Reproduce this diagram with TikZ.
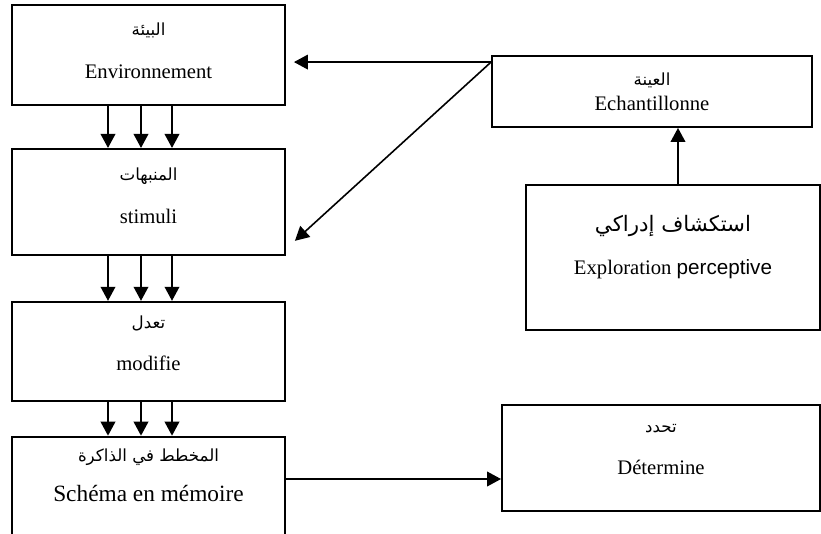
\documentclass[tikz,border=0pt]{standalone}
\usepackage{fontspec}
\setmainfont{Liberation Serif}
\newfontfamily\arabicfont[Script=Arabic]{DejaVu Sans}
\newfontfamily\arialfont{Liberation Sans}
\TeXXeTstate=1
\usetikzlibrary{arrows.meta,positioning}

\newcommand{\artxt}[1]{{\arabicfont\fontsize{12.5}{14}\selectfont\beginR #1\endR}}

\begin{document}
\begin{tikzpicture}[
  >={Triangle[length=10.5pt,width=11pt]},
  % main chain boxes
  box/.style={draw, line width=1.4pt, minimum width=204.75pt,
              align=center, inner sep=0pt,
              font=\fontsize{15.5}{19}\selectfont},
  % boxes on the right
  sidebox/.style={box, minimum width=240pt},
  % arrows
  arr/.style={->, line width=1.2pt},
]
\useasboundingbox (0,0) rectangle (615.75pt,-399.75pt);

%% -- Left column ----------------------------------------------------------
\node[box, minimum height=75pt, text depth=7pt]   (env)    at (111.375pt,-41.25pt)
      {\artxt{البيئة}\\[13pt]Environnement};
\node[box, minimum height=79.5pt, text depth=9pt] (stim)   [below=31.5pt of env]
      {\artxt{المنبهات}\\[13pt]stimuli};
\node[box, minimum height=74.25pt, text depth=12pt](mod)   [below=33.75pt of stim]
      {\artxt{تعدل}\\[12pt]modifie};
\node[box, minimum height=82.5pt, text depth=25pt, font=\fontsize{17.5}{21}\selectfont]
      (schema) [below=25.5pt of mod]
      {\artxt{المخطط في الذاكرة}\\[9pt]Schéma en mémoire};

%% -- Right column ---------------------------------------------------------
\node[sidebox, minimum height=53.25pt] (echant) at (489pt,-68.625pt)
      {\artxt{العينة}\\Echantillonne};
\node[box, minimum width=220.5pt, minimum height=108.75pt, text depth=19pt]
      (explor) [below=42pt of echant, xshift=15.75pt]
      {{\arabicfont\fontsize{16}{19}\selectfont\beginR استكشاف إدراكي\endR}\\[13pt]%
       Exploration {\arialfont perceptive}};
\node[sidebox, minimum width=238.5pt, minimum height=79.5pt, text depth=13pt]
      (det) at (495.75pt,-343.5pt)
      {\artxt{تحدد}\\[13pt]Détermine};

%% -- Triple arrows down the chain -----------------------------------------
\draw[arr] ([xshift=-30.375pt]env.south) -- ([xshift=-30.375pt]stim.north);
\draw[arr] ([xshift=-5.625pt]env.south)  -- ([xshift=-5.625pt]stim.north);
\draw[arr] ([xshift=17.625pt]env.south)  -- ([xshift=17.625pt]stim.north);

\draw[arr] ([xshift=-30.375pt]stim.south) -- ([xshift=-30.375pt]mod.north);
\draw[arr] ([xshift=-5.625pt]stim.south)  -- ([xshift=-5.625pt]mod.north);
\draw[arr] ([xshift=17.625pt]stim.south)  -- ([xshift=17.625pt]mod.north);

\draw[arr] ([xshift=-30.375pt]mod.south) -- ([xshift=-30.375pt]schema.north);
\draw[arr] ([xshift=-5.625pt]mod.south)  -- ([xshift=-5.625pt]schema.north);
\draw[arr] ([xshift=17.625pt]mod.south)  -- ([xshift=17.625pt]schema.north);

%% -- Sampling feedback ----------------------------------------------------
\coordinate (src) at ([yshift=-5.25pt]echant.north west);
\draw[arr] ([xshift=3.75pt]explor.north) -- ([xshift=3.75pt]explor.north |- echant.south);
\draw[arr] (src) -- ([xshift=6pt]env.east |- src);
\draw[arr] (src) -- ([xshift=6.75pt,yshift=11.25pt]stim.south east);

%% -- Schema determines ----------------------------------------------------
\coordinate (detin) at ([yshift=-15.75pt]det.west);
\draw[arr] (schema.east |- detin) -- (detin);

\end{tikzpicture}
\end{document}
